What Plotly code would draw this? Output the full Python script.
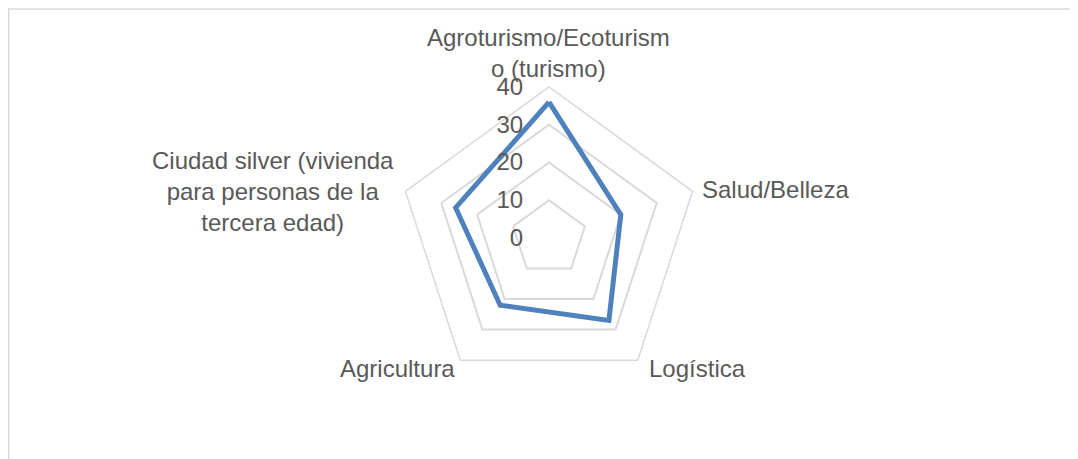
import plotly.graph_objects as go

categories = [
    "Agroturismo/Ecoturismo (turismo)",
    "Salud/Belleza",
    "Logística",
    "Agricultura",
    "Ciudad silver (vivienda para personas de la tercera edad)",
]
label_texts = [
    "Agroturismo/Ecoturism<br>o (turismo)",
    "Salud/Belleza",
    "Logística",
    "Agricultura",
    "Ciudad silver (vivienda<br>para personas de la<br>tercera edad)",
]
values = [36, 20, 27, 22, 26]
radial_ticks = [0, 10, 20, 30, 40]

W, H = 1078, 459
OFF = 8  # page body margin
cx, cy, R = 549 - OFF, 238 - OFF, 151


def px(x):
    return x / W


def py(y):
    return 1 - y / H


fig = go.Figure()
fig.add_trace(go.Scatterpolar(
    r=values + values[:1],
    theta=categories + categories[:1],
    mode="lines",
    line=dict(color="#4f81bd", width=5),
    showlegend=False,
    hoverinfo="skip",
))

font_main = dict(family="Liberation Sans, Arial, sans-serif", size=24, color="#595959")

# label placements (screen px) : x, y, xanchor, yanchor
label_pos = [
    (548, 84, "center", "bottom"),
    (700, 189, "left", "middle"),
    (647, 368, "left", "middle"),
    (457, 368, "right", "middle"),
    (273, 191, "center", "middle"),
]
annotations = []
for txt, (x, y, xa, ya) in zip(label_texts, label_pos):
    annotations.append(dict(
        text=txt, x=px(x - OFF), y=py(y - OFF), xref="paper", yref="paper",
        xanchor=xa, yanchor=ya, align="center", showarrow=False, font=font_main,
    ))

fig.update_layout(
    width=W, height=H,
    margin=dict(l=0, r=0, t=0, b=0),
    paper_bgcolor="white",
    font=font_main,
    annotations=annotations,
    polar=dict(
        domain=dict(x=[px(cx - R), px(cx + R)], y=[py(cy + R), py(cy - R)]),
        bgcolor="white",
        gridshape="linear",
        radialaxis=dict(
            range=[0, 40],
            tickvals=radial_ticks,
            angle=90,
            side="counterclockwise",
            tickangle=90,
            showline=False,
            ticks="outside",
            ticklen=17,
            tickcolor="rgba(0,0,0,0)",
            gridcolor="#d9d9d9",
            gridwidth=1.5,
            tickfont=font_main,
        ),
        angularaxis=dict(
            direction="clockwise",
            rotation=90,
            showgrid=False,
            showline=True,
            linecolor="#d9d9d9",
            linewidth=1.5,
            ticks="",
            showticklabels=False,
        ),
    ),
    shapes=[dict(
        type="rect", xref="paper", yref="paper",
        x0=px(0.75), x1=1.05, y0=-0.05, y1=py(1),
        line=dict(color="#d9d9d9", width=1.5),
    )],
)

fig.write_html("out.html")
